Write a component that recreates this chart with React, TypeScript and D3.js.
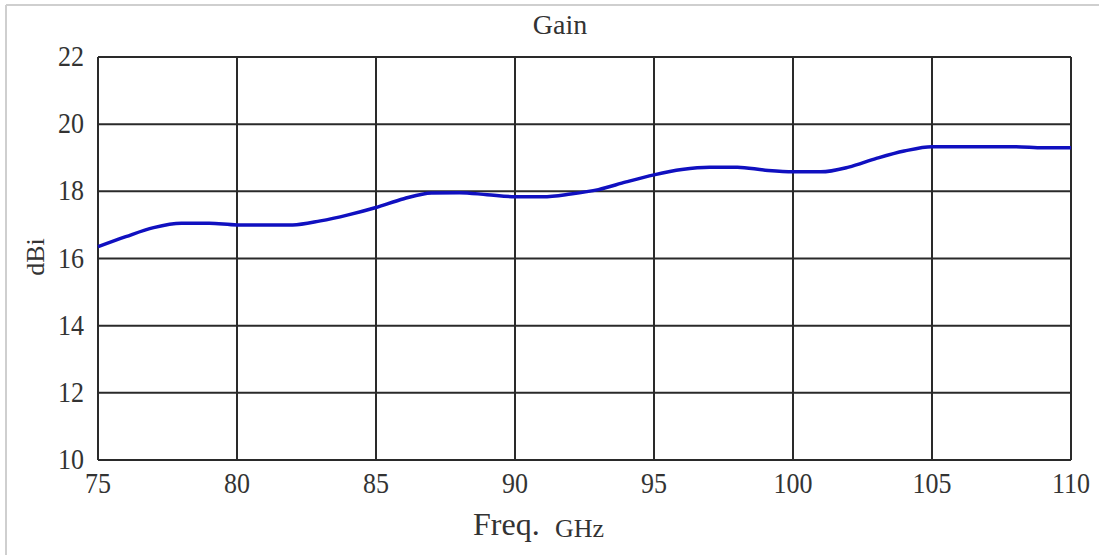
import React from "react";
import * as d3 from "d3";

const freqs = [75, 76, 77, 78, 79, 80, 81, 82, 83, 84, 85, 86, 87, 88, 89, 90, 91, 92, 93, 94, 95, 96, 97, 98, 99, 100, 101, 102, 103, 104, 105, 106, 107, 108, 109, 110];
const gain = [16.35, 16.65, 16.92, 17.05, 17.05, 17.0, 17.0, 17.0, 17.12, 17.3, 17.52, 17.78, 17.95, 17.96, 17.9, 17.84, 17.84, 17.92, 18.05, 18.28, 18.49, 18.65, 18.72, 18.72, 18.63, 18.58, 18.58, 18.72, 18.98, 19.2, 19.33, 19.33, 19.33, 19.33, 19.3, 19.3];
const xTicks = [75, 80, 85, 90, 95, 100, 105, 110];
const yTicks = [10, 12, 14, 16, 18, 20, 22];
const title = "Gain";
const xLabel = "Freq.";
const xUnit = "GHz";
const yLabel = "dBi";

const W = 1099;
const H = 555;
const left = 98, right = 1071, top = 57, bottom = 460;

export default function App() {
  const x = d3.scaleLinear().domain([75, 110]).range([left, right]);
  const y = d3.scaleLinear().domain([10, 22]).range([bottom, top]);
  const pts: [number, number][] = freqs.map((f, i) => [f, gain[i]]);
  const line = d3
    .line<[number, number]>()
    .x((d) => x(d[0]))
    .y((d) => y(d[1]))
    .curve(d3.curveMonotoneX);
  const font = "'Liberation Serif', 'Times New Roman', serif";
  return (
    <svg
      width={W}
      height={H}
      style={{ position: "absolute", left: 0, top: 0, background: "#fff" }}
      fontFamily={font}
    >
      <rect x={0} y={0} width={W} height={H} fill="#fff" />
      <line x1={6} y1={5} x2={W} y2={5} stroke="#cfcfcf" strokeWidth={2} />
      <line x1={6} y1={5} x2={6} y2={H} stroke="#cfcfcf" strokeWidth={2} />
      {xTicks.map((t) => (
        <line key={"gx" + t} x1={x(t)} x2={x(t)} y1={top} y2={bottom} stroke="#2a2a2a" strokeWidth={2} />
      ))}
      {yTicks.map((t) => (
        <line key={"gy" + t} x1={left} x2={right} y1={y(t)} y2={y(t)} stroke="#2a2a2a" strokeWidth={2} />
      ))}
      <path d={line(pts) || ""} fill="none" stroke="#1010c0" strokeWidth={3.5} />
      {xTicks.map((t) => (
        <text key={"tx" + t} transform={`translate(${x(t)}, ${bottom + 33}) scale(1, 1.12)`} textAnchor="middle" fontSize={26} fill="#333">
          {t}
        </text>
      ))}
      {yTicks.map((t) => (
        <text key={"ty" + t} transform={`translate(84, ${y(t) + 9}) scale(1, 1.12)`} textAnchor="end" fontSize={26} fill="#333">
          {t}
        </text>
      ))}
      <text x={560} y={34} textAnchor="middle" fontSize={28} fill="#333">
        {title}
      </text>
      <text
        transform={`translate(44, 257) rotate(-90)`}
        textAnchor="middle"
        fontSize={26}
        fill="#333"
      >
        {yLabel}
      </text>
      <text x={473} y={535} fontSize={32} fill="#333">
        {xLabel}
      </text>
      <text x={555} y={537} fontSize={26} fill="#333">
        {xUnit}
      </text>
    </svg>
  );
}
